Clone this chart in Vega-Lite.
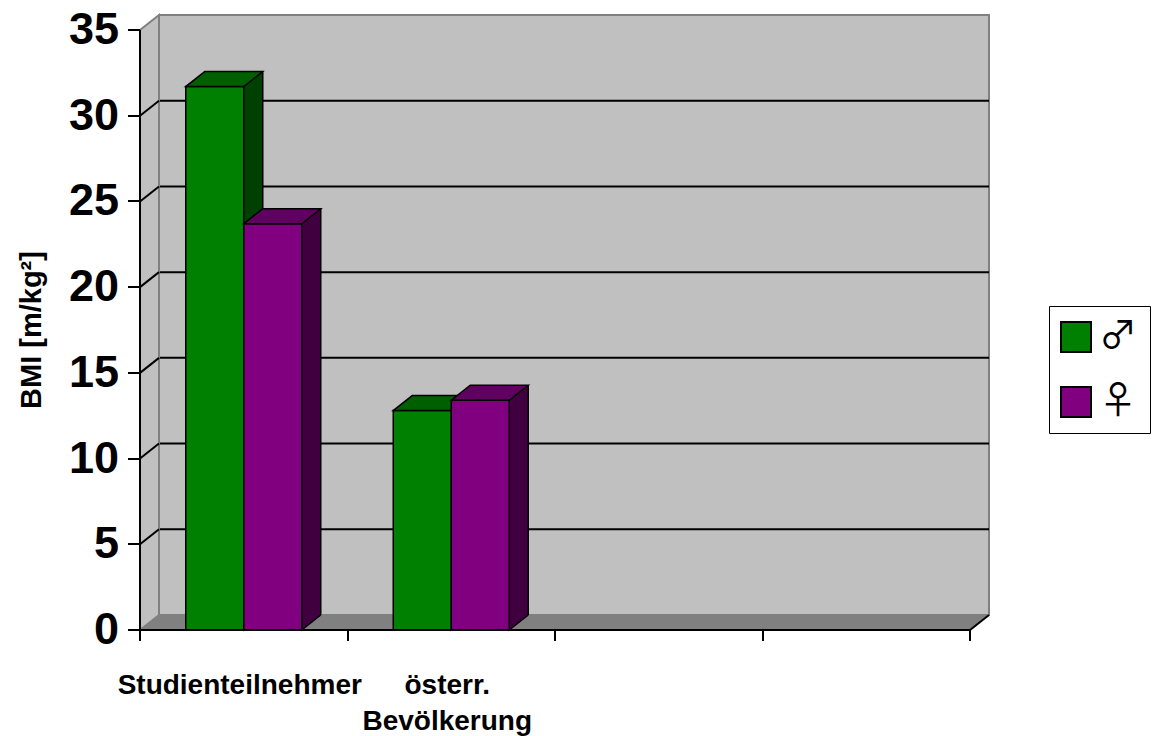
{
  "$schema": "https://vega.github.io/schema/vega-lite/v6.json",
  "width": 830,
  "height": 600,
  "autosize": {"type": "none"},
  "padding": {"left": 159, "top": 15, "right": 164, "bottom": 121},
  "background": "white",
  "config": {
    "view": {"fill": "#C0C0C0", "stroke": "#808080", "strokeWidth": 2},
    "font": "Liberation Sans",
    "axis": {"grid": false}
  },
  "data": {
    "values": [
      {"group": "Studienteilnehmer", "sex": "♂", "bmi": 31.7},
      {"group": "Studienteilnehmer", "sex": "♀", "bmi": 23.7},
      {"group": "österr. Bevölkerung", "sex": "♂", "bmi": 12.8},
      {"group": "österr. Bevölkerung", "sex": "♀", "bmi": 13.4}
    ]
  },
  "layer": [
    {
      "data": {"values": [{"g": 5}, {"g": 10}, {"g": 15}, {"g": 20}, {"g": 25}, {"g": 30}]},
      "mark": {"type": "rule", "stroke": "black", "strokeWidth": 2},
      "encoding": {
        "y": {"field": "g", "type": "quantitative", "scale": {"domain": [0, 35], "nice": false}}
      }
    },
    {
      "data": {"values": [{}]},
      "mark": {"type": "point", "shape": "M0,0 L830,0 L811,15 L-19,15 Z", "size": 4, "filled": true, "fill": "#808080", "stroke": "#808080", "strokeWidth": 1, "opacity": 1},
      "encoding": {
        "x": {"datum": "Studienteilnehmer", "bandPosition": 0, "type": "nominal", "scale": {"type": "band", "domain": ["Studienteilnehmer", "österr. Bevölkerung", " ", "  "], "paddingInner": 0, "paddingOuter": 0}},
        "y": {"datum": 0, "type": "quantitative"}
      }
    },
    {
      "data": {"values": [{}]},
      "mark": {"type": "point", "shape": "M830,0 L811,15", "size": 4, "filled": false, "stroke": "black", "strokeWidth": 2, "opacity": 1},
      "encoding": {
        "x": {"datum": "Studienteilnehmer", "bandPosition": 0, "type": "nominal"},
        "y": {"datum": 0, "type": "quantitative"}
      }
    },
    {
      "data": {"values": [{}]},
      "mark": {"type": "point", "shape": "M0,0 L-19,15 L-19,-585 L0,-600 Z", "size": 4, "filled": true, "fill": "#C0C0C0", "stroke": "#808080", "strokeWidth": 2, "opacity": 1},
      "encoding": {
        "x": {"datum": "Studienteilnehmer", "bandPosition": 0, "type": "nominal"},
        "y": {"datum": 0, "type": "quantitative"}
      }
    },
    {
      "data": {"values": [{"g": 5}, {"g": 10}, {"g": 15}, {"g": 20}, {"g": 25}, {"g": 30}]},
      "mark": {"type": "point", "shape": "M0,0 L-19,15", "size": 4, "filled": false, "stroke": "black", "strokeWidth": 2, "opacity": 1},
      "encoding": {
        "x": {"datum": "Studienteilnehmer", "bandPosition": 0, "type": "nominal"},
        "y": {"field": "g", "type": "quantitative"}
      }
    },
    {
      "transform": [{"filter": "datum.sex == '♂'"}],
      "mark": {"type": "bar", "width": 58, "xOffset": -29, "fill": "#004000", "strokeWidth": 0},
      "encoding": {
        "x": {"field": "group", "type": "nominal"},
        "y": {"field": "bmi", "type": "quantitative"}
      }
    },
    {
      "transform": [{"filter": "datum.sex == '♂'"}],
      "mark": {"type": "rule", "xOffset": 0, "stroke": "black", "strokeWidth": 1.5},
      "encoding": {
        "x": {"field": "group", "type": "nominal"},
        "y": {"field": "bmi", "type": "quantitative"},
        "y2": {"datum": 0}
      }
    },
    {
      "transform": [{"filter": "datum.sex == '♂'"}],
      "mark": {"type": "point", "shape": "M10,0 L10,15 L29,0", "size": 4, "xOffset": -29, "filled": true, "fill": "#004000", "stroke": "black", "strokeWidth": 1.5, "opacity": 1},
      "encoding": {
        "x": {"field": "group", "type": "nominal"},
        "y": {"datum": 0, "type": "quantitative"}
      }
    },
    {
      "transform": [{"filter": "datum.sex == '♂'"}],
      "mark": {"type": "bar", "width": 58, "xOffset": -48, "yOffset": 15, "y2Offset": 15, "stroke": "black", "strokeWidth": 1.5, "opacity": 1},
      "encoding": {
        "x": {"field": "group", "type": "nominal",
          "axis": {"orient": "bottom", "tickBand": "extent", "offset": 34, "translate": -19, "zindex": 1,
            "domain": true, "ticks": true, "labels": true,
            "domainColor": "black", "domainWidth": 2, "tickColor": "black", "tickWidth": 2, "tickSize": 11,
            "labelAngle": 0, "labelAlign": "center", "labelBaseline": "top", "labelFont": "Liberation Sans", "labelFontWeight": "bold", "labelFontSize": 28, "labelColor": "black",
            "labelPadding": 31, "labelLineHeight": 36, "labelOffset": -4, "labelOverlap": false, "labelBound": false, "labelFlush": false, "labelLimit": 500,
            "labelExpr": "datum.value == 'österr. Bevölkerung' ? ['österr.', 'Bevölkerung'] : datum.value",
            "title": null}},
        "y": {"field": "bmi", "type": "quantitative",
          "axis": {"orient": "left", "offset": 34, "translate": 15, "zindex": 1, "grid": false,
            "domain": true, "ticks": true, "labels": true,
            "values": [0, 5, 10, 15, 20, 25, 30, 35],
            "domainColor": "black", "domainWidth": 2, "tickColor": "black", "tickWidth": 2, "tickSize": 12,
            "labelFont": "Liberation Sans", "labelFontWeight": "bold", "labelFontSize": 45, "labelColor": "black", "labelPadding": 9,
            "title": "BMI [m/kg²]", "titleFont": "Liberation Sans", "titleFontWeight": "bold", "titleFontSize": 29, "titleColor": "black", "titlePadding": 22}},
        "color": {"field": "sex", "type": "nominal",
          "scale": {"domain": ["♂", "♀"], "range": ["#008000", "#800080"]},
          "legend": {"orient": "none", "legendX": 890, "legendY": 291, "title": null,
            "symbolType": "square", "symbolSize": 900, "symbolStrokeColor": "black", "symbolStrokeWidth": 2, "symbolOpacity": 1, "symbolOffset": -4,
            "labelFont": "Noto Sans CJK JP", "labelFontSize": 38, "labelColor": "black", "labelOffset": 4,
            "padding": 12, "rowPadding": 27, "strokeColor": "black", "fillColor": "white"}}
      }
    },
    {
      "transform": [{"filter": "datum.sex == '♂'"}],
      "mark": {"type": "point", "shape": "M-48,15 L10,15 L29,0 L-29,0 Z", "size": 4, "xOffset": -29, "filled": true, "fill": "#006000", "stroke": "black", "strokeWidth": 1.5, "opacity": 1},
      "encoding": {
        "x": {"field": "group", "type": "nominal"},
        "y": {"field": "bmi", "type": "quantitative"}
      }
    },
    {
      "transform": [{"filter": "datum.sex == '♀'"}],
      "mark": {"type": "bar", "width": 58, "xOffset": 29, "fill": "#400040", "strokeWidth": 0},
      "encoding": {
        "x": {"field": "group", "type": "nominal"},
        "y": {"field": "bmi", "type": "quantitative"}
      }
    },
    {
      "transform": [{"filter": "datum.sex == '♀'"}],
      "mark": {"type": "rule", "xOffset": 58, "stroke": "black", "strokeWidth": 1.5},
      "encoding": {
        "x": {"field": "group", "type": "nominal"},
        "y": {"field": "bmi", "type": "quantitative"},
        "y2": {"datum": 0}
      }
    },
    {
      "transform": [{"filter": "datum.sex == '♀'"}],
      "mark": {"type": "point", "shape": "M10,0 L10,15 L29,0", "size": 4, "xOffset": 29, "filled": true, "fill": "#400040", "stroke": "black", "strokeWidth": 1.5, "opacity": 1},
      "encoding": {
        "x": {"field": "group", "type": "nominal"},
        "y": {"datum": 0, "type": "quantitative"}
      }
    },
    {
      "transform": [{"filter": "datum.sex == '♀'"}],
      "mark": {"type": "bar", "width": 58, "xOffset": 10, "yOffset": 15, "y2Offset": 15, "stroke": "black", "strokeWidth": 1.5, "opacity": 1},
      "encoding": {
        "x": {"field": "group", "type": "nominal"},
        "y": {"field": "bmi", "type": "quantitative"},
        "color": {"field": "sex", "type": "nominal"}
      }
    },
    {
      "transform": [{"filter": "datum.sex == '♀'"}],
      "mark": {"type": "point", "shape": "M-48,15 L10,15 L29,0 L-29,0 Z", "size": 4, "xOffset": 29, "filled": true, "fill": "#600060", "stroke": "black", "strokeWidth": 1.5, "opacity": 1},
      "encoding": {
        "x": {"field": "group", "type": "nominal"},
        "y": {"field": "bmi", "type": "quantitative"}
      }
    }
  ]
}
